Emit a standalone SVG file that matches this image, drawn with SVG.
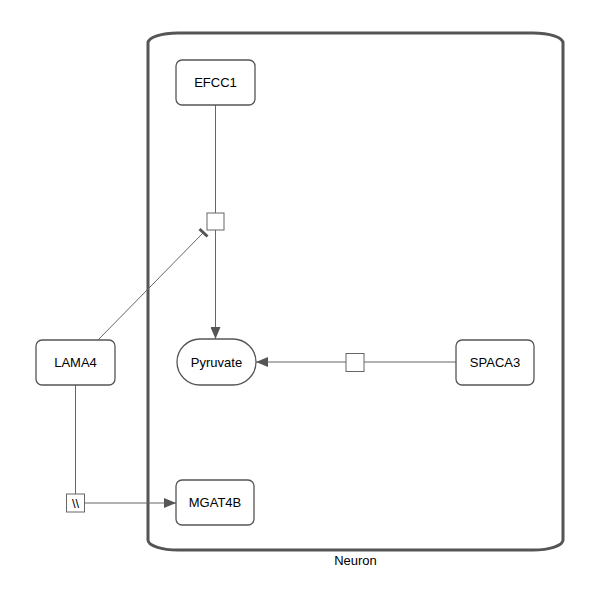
<svg xmlns="http://www.w3.org/2000/svg" width="600" height="600" viewBox="0 0 600 600">
<style>
.node{fill:#fff;stroke:#555;stroke-width:1.3}
.lbl{font-family:"Liberation Sans",Arial,sans-serif;font-size:13px;fill:#000;text-anchor:middle;dominant-baseline:central}
.edge{fill:none;stroke:#666;stroke-width:1}
.proc{fill:#fff;stroke:#666;stroke-width:1}
</style>
<defs>
<marker id="arrow" viewBox="0 0 12 10" refX="12" refY="5" markerWidth="12" markerHeight="10" markerUnits="userSpaceOnUse" orient="auto">
<path d="M0,0 L12,5 L0,10 Z" fill="#555"/>
</marker>
</defs>
<rect width="600" height="600" fill="#fff"/>
<g id="compartment-Neuron">
<rect x="148" y="33" width="415" height="517" rx="30" ry="10" fill="none" stroke="#555" stroke-width="3"/>
<text class="lbl" x="355.5" y="560">Neuron</text>
</g>
<g id="connectors">
<line class="edge" x1="215.5" y1="105" x2="215.5" y2="213"/>
<line class="edge" x1="215.5" y1="230" x2="215.5" y2="339" marker-end="url(#arrow)"/>
<line class="edge" x1="98" y1="340" x2="203.5" y2="232.5"/>
<line x1="199.5" y1="229" x2="207.5" y2="236.5" stroke="#555" stroke-width="3"/>
<line class="edge" x1="456" y1="362" x2="364" y2="362"/>
<line class="edge" x1="346" y1="362" x2="256" y2="362" marker-end="url(#arrow)"/>
<line class="edge" x1="75.5" y1="385" x2="75.5" y2="494"/>
<line class="edge" x1="84" y1="503" x2="176" y2="503" marker-end="url(#arrow)"/>
<rect class="proc" x="207" y="213" width="17" height="17"/>
<rect class="proc" x="346" y="353.5" width="18" height="18"/>
<rect class="proc" x="66.5" y="494" width="18" height="18"/>
<text x="75.5" y="503" font-family="'Liberation Sans',Arial,sans-serif" font-size="13" text-anchor="middle" dominant-baseline="central" fill="#000">\\</text>
</g>
<g id="EFCC1">
<rect class="node" x="176" y="60" width="79" height="45" rx="6"/>
<text class="lbl" x="215.5" y="82.5">EFCC1</text>
</g>
<g id="LAMA4">
<rect class="node" x="36" y="340" width="79" height="45" rx="6"/>
<text class="lbl" x="75.5" y="362.5">LAMA4</text>
</g>
<g id="Pyruvate">
<rect class="node" x="177" y="339" width="79" height="46" rx="23"/>
<text class="lbl" x="216.5" y="362">Pyruvate</text>
</g>
<g id="SPACA3">
<rect class="node" x="456" y="340" width="78" height="45" rx="6"/>
<text class="lbl" x="495" y="362.5">SPACA3</text>
</g>
<g id="MGAT4B">
<rect class="node" x="176" y="480" width="78" height="45" rx="6"/>
<text class="lbl" x="215" y="502.5">MGAT4B</text>
</g>
</svg>
